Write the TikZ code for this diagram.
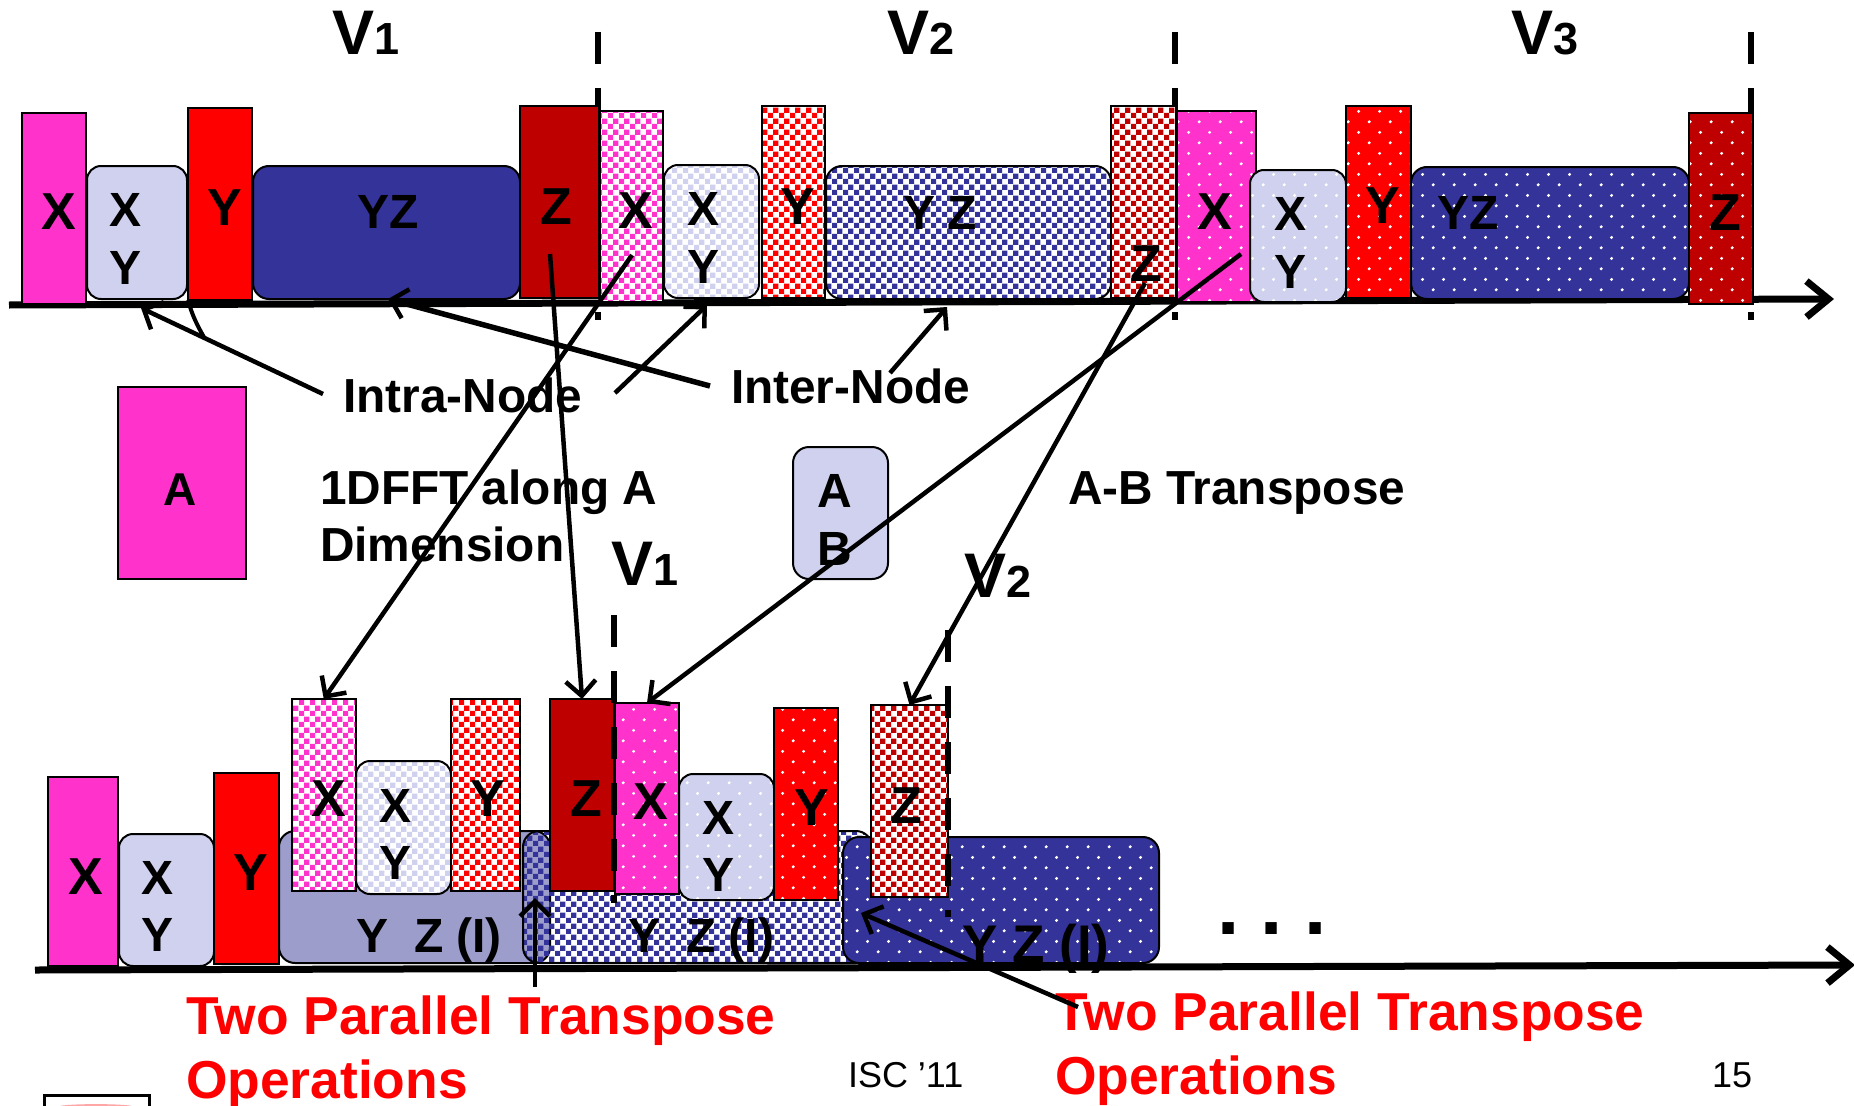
\documentclass[tikz,border=0pt]{standalone}
\usepackage{fontspec}
\setmainfont{Liberation Sans}
\usetikzlibrary{arrows.meta,patterns}
\definecolor{cpink}{HTML}{FF33CC}
\definecolor{clil}{HTML}{D0D1EE}
\definecolor{cred}{HTML}{FF0000}
\definecolor{cdred}{HTML}{BE0000}
\definecolor{cnavy}{HTML}{333399}
\definecolor{cplain}{HTML}{9C9DCB}
\pgfdeclarepatternformonly{mycheck}{\pgfqpoint{0pt}{0pt}}{\pgfqpoint{10.67pt}{10.67pt}}{\pgfqpoint{10.67pt}{10.67pt}}{%
  \pgfpathrectangle{\pgfqpoint{0pt}{0pt}}{\pgfqpoint{5.33pt}{5.33pt}}%
  \pgfpathrectangle{\pgfqpoint{5.33pt}{5.33pt}}{\pgfqpoint{5.33pt}{5.33pt}}%
  \pgfusepath{fill}}
\pgfdeclarepatternformonly{mydots}{\pgfqpoint{0pt}{0pt}}{\pgfqpoint{21.33pt}{21.33pt}}{\pgfqpoint{21.33pt}{21.33pt}}{%
  \pgfpathcircle{\pgfqpoint{5.33pt}{5.33pt}}{1.7pt}%
  \pgfpathcircle{\pgfqpoint{16pt}{16pt}}{1.7pt}%
  \pgfusepath{fill}}
\tikzset{
  bar/.style={draw=black,line width=2pt,inner sep=0pt,outer sep=0pt},
  pill/.style={bar,rounded corners=16pt},
  chk/.style={preaction={fill=white},pattern=mycheck,pattern color=#1},
  chkclear/.style={pattern=mycheck,pattern color=#1},
  dotfill/.style={preaction={fill=#1},pattern=mydots,pattern color=white},
  lab/.style={inner sep=0pt,outer sep=0pt,font=\bfseries\fontsize{52}{52}\selectfont},
  labs/.style={inner sep=0pt,outer sep=0pt,font=\bfseries\fontsize{48}{48}\selectfont},
  labb/.style={inner sep=0pt,outer sep=0pt,anchor=base,font=\bfseries\fontsize{48}{48}\selectfont},
  captxt/.style={inner sep=0pt,outer sep=0pt,anchor=base west,font=\bfseries\fontsize{47.8}{48}\selectfont},
  redtxt/.style={inner sep=0pt,outer sep=0pt,anchor=base west,text=cred,font=\bfseries\fontsize{53.4}{54}\selectfont},
  vlab/.style={inner sep=0pt,outer sep=0pt,anchor=base west,font=\bfseries\fontsize{63}{63}\selectfont},
  foot/.style={inner sep=0pt,outer sep=0pt,anchor=base west,font=\fontsize{36}{36}\selectfont},
  arr/.style={line width=4.5pt,-{Straight Barb[length=15pt,width=30pt,line width=4.5pt]}},
  plainline/.style={line width=4pt},
  axisline/.style={line width=7pt,-{Straight Barb[length=22pt,width=36pt,line width=7pt]}},
  divider/.style={line width=6.5pt,dash pattern=on 32pt off 24pt},
}
% box: style, name, x1, y1, x2, y2
\newcommand{\Bx}[6]{\node[#1,anchor=south west,minimum width={(#5-#3)*1pt},minimum height={(#6-#4)*1pt}] (#2) at (#3,#6) {};}
\newcommand{\Vv}[1]{V{\fontsize{45}{45}\selectfont #1}}
\begin{document}
\begin{tikzpicture}[x=1pt,y=-1pt]
\path[use as bounding box,clip] (0,0) rectangle (1854,1105);
\fill[white] (0,0) rectangle (1854,1105);
% top dividers
\coordinate (d1a) at (598,32); \coordinate (d1b) at (598,320);
\coordinate (d2a) at (1175,32); \coordinate (d2b) at (1175,320);
\coordinate (d3a) at (1751,32); \coordinate (d3b) at (1751,320);
\draw[divider] (d1a) -- (d1b);
\draw[divider] (d2a) -- (d2b);
\draw[divider] (d3a) -- (d3b);
% top axis
\coordinate (axA) at (9,305); \coordinate (axB) at (1834,299);
\draw[axisline] (axA) -- (axB);
% top row
\Bx{bar,fill=cpink}{a1}{22}{113}{86}{304}
\Bx{pill,rounded corners=14pt,fill=clil}{a2}{87}{166}{187}{299}
\Bx{bar,fill=cred}{a3}{188}{108}{252}{300}
\Bx{pill,fill=cnavy}{a4}{253}{166}{520}{299}
\Bx{bar,fill=cdred}{a5}{520}{106}{599}{298}
\Bx{bar,chk=cpink}{b1}{600}{111}{663}{302}
\Bx{pill,rounded corners=14pt,chk=clil}{b2}{664}{165}{759}{298}
\Bx{bar,chk=cred}{b3}{762}{106}{825}{298}
\Bx{pill,chk=cnavy}{b4}{826}{166}{1111}{299}
\Bx{bar,chk=cdred}{b5}{1111}{106}{1176}{298}
\Bx{bar,dotfill=cpink}{c1}{1177}{111}{1256}{302}
\Bx{pill,rounded corners=14pt,dotfill=clil}{c2}{1250}{170}{1346}{302}
\Bx{bar,dotfill=cred}{c3}{1346}{106}{1411}{298}
\Bx{pill,dotfill=cnavy}{c4}{1411}{167}{1689}{299}
\Bx{bar,dotfill=cdred}{c5}{1689}{113}{1753}{304}
% top labels
\node[lab] (ta1) at (59,212) {X};
\node[labs] (ta2x) at (126,210) {X};
\node[labs] (ta2y) at (126,268) {Y};
\node[lab] (ta3) at (225,208) {Y};
\node[labs] (ta4) at (388,212) {YZ};
\node[lab] (ta5) at (556,207) {Z};
\node[lab] (tb1) at (636,211) {X};
\node[labs] (tb2x) at (703,209) {X};
\node[labs] (tb2y) at (703,267) {Y};
\node[lab] (tb3) at (798,207) {Y};
\node[labs] (tb4y) at (919,213) {Y};
\node[labs] (tb4z) at (962,213) {Z};
\node[lab] (tb5) at (1146,264) {Z};
\node[lab] (tc1) at (1215,212) {X};
\node[labs] (tc2x) at (1290,214) {X};
\node[labs] (tc2y) at (1290,272) {Y};
\node[lab] (tc3) at (1383,206) {Y};
\node[labs] (tc4) at (1468,213) {YZ};
\node[lab] (tc5) at (1725,213) {Z};
% V labels
\node[vlab] (v1) at (332,55) {\Vv{1}};
\node[vlab] (v2) at (887,55) {\Vv{2}};
\node[vlab] (v3) at (1511,55) {\Vv{3}};
\node[vlab] (v1l) at (611,585) {\Vv{1}};
\node[vlab] (v2l) at (964,597) {\Vv{2}};
% middle
\node[captxt] (intra) at (343,412) {Intra-Node};
\node[captxt] (inter) at (731,403) {Inter-Node};
\Bx{bar,fill=cpink}{legA}{118}{387}{246}{579}
\node[lab,font=\bfseries\fontsize{46}{46}\selectfont] (legAt) at (180,490) {A};
\node[captxt] (fft1) at (320,504) {1DFFT along A};
\node[captxt] (fft2) at (320,561) {Dimension};
\Bx{pill,fill=clil}{legB}{793}{447}{888}{579}
\node[labs] (legBa) at (835,491) {A};
\node[labs] (legBb) at (835,549) {B};
\node[captxt] (abt) at (1068,504) {A-B Transpose};
% bottom axis
\coordinate (bxA) at (35,970); \coordinate (bxB) at (1855,965);
\draw[axisline] (bxA) -- (bxB);
% bottom row
\Bx{bar,fill=cpink}{e1}{48}{777}{118}{966}
\Bx{pill,rounded corners=14pt,fill=clil}{e2}{119}{834}{214}{966}
\Bx{bar,fill=cred}{e3}{214}{773}{279}{964}
\Bx{pill,fill=cplain}{e4}{279}{831}{550}{963}
\Bx{pill,chkclear=cnavy}{f4}{523}{831}{872}{963}
\Bx{pill,dotfill=cnavy}{g4}{843}{837}{1159}{963}
\Bx{bar,chk=cpink}{f1}{291.5}{699}{356}{891}
\Bx{pill,rounded corners=14pt,chk=clil}{f2}{356}{761}{451}{894}
\Bx{bar,chk=cred}{f3}{451}{699}{520}{891}
\Bx{bar,fill=cdred}{f5}{550}{699}{614}{891}
\Bx{bar,dotfill=cpink}{g1}{615}{703}{679}{894}
\Bx{pill,rounded corners=14pt,dotfill=clil}{g2}{679}{774}{774}{900}
\Bx{bar,dotfill=cred}{g3}{774}{708}{838}{900}
\Bx{bar,chk=cdred}{g5}{871}{705}{948}{897}
% bottom dividers
\coordinate (d4a) at (614,615); \coordinate (d4b) at (614,903);
\coordinate (d5a) at (948,630); \coordinate (d5b) at (948,917);
\draw[divider] (d4a) -- (d4b);
\draw[divider] (d5a) -- (d5b);
% bottom labels
\node[lab] (le1) at (86,877) {X};
\node[labs] (le2x) at (158,878) {X};
\node[labs] (le2y) at (158,935) {Y};
\node[lab] (le3) at (251,873) {Y};
\node[labb] (le4) at (429,952) {Y\kern.54em Z\kern.27em(I)};
\node[lab] (lf1) at (329,799) {X};
\node[labs] (lf2x) at (395.5,806) {X};
\node[labs] (lf2y) at (395.5,863) {Y};
\node[lab] (lf3) at (488,799) {Y};
\node[lab] (lf5) at (586,799) {Z};
\node[labb] (lf4) at (701.5,952) {Y\kern.54em Z\kern.27em(I)};
\node[lab] (lg1) at (651,802) {X};
\node[labs] (lg2x) at (718,818) {X};
\node[labs] (lg2y) at (718,875) {Y};
\node[lab] (lg3) at (812,808) {Y};
\node[lab] (lg5) at (906,806) {Z};
\node[labb,font=\bfseries\fontsize{53}{53}\selectfont] (lg4) at (1036,962) {Y Z (I)};
% ellipsis
\node[inner sep=0pt,anchor=base,font=\bfseries\fontsize{80}{80}\selectfont] (dots) at (1272,934) {.\kern21pt.\kern21pt.};
% red captions
\node[redtxt] (rc1) at (186,1034) {Two Parallel Transpose};
\node[redtxt] (rc2) at (186,1098) {Operations};
\node[redtxt] (rc3) at (1055,1030) {Two Parallel Transpose};
\node[redtxt] (rc4) at (1055,1094) {Operations};
% footer
\node[foot] (isc) at (848,1087) {ISC '11};
\node[foot] (pg) at (1712,1087) {15};
% logo fragment
\node[draw=black,line width=2.5pt,fill=white,inner sep=0pt,anchor=north west,minimum width=105pt,minimum height=30pt] (logo) at (43,1094) {};
\fill[red!35] (60,1106) .. controls (70,1103.5) and (122,1103.5) .. (132,1106) -- cycle;
% connectors
\coordinate (t1) at (323,394); \coordinate (h1) at (141,308);
\draw[arr] (t1) -- (h1);
\coordinate (t2) at (205,339);
\draw[plainline] (t2) .. controls (197,325) and (192,315) .. (a3.south west);
\coordinate (t3) at (615,393); \coordinate (h3) at (707,305);
\draw[arr] (t3) -- (h3);
\coordinate (t4) at (710,386); \coordinate (h4) at (388,299);
\draw[arr,line width=5.5pt] (t4) -- (h4);
\coordinate (t5) at (890,373); \coordinate (h5) at (947,307);
\draw[arr] (t5) -- (h5);
\coordinate (t6) at (632,255);
\draw[arr] (t6) -- (f1.north);
\coordinate (t7) at (550,254);
\draw[arr] (t7) -- (f5.north);
\coordinate (t8) at (1241,254);
\draw[arr] (t8) -- (g1.north);
\coordinate (t9) at (1145,283);
\draw[arr] (t9) -- (g5.north);
\coordinate (t10) at (535,987); \coordinate (h10) at (535,898);
\draw[arr] (t10) -- (h10);
\coordinate (t11) at (1078,1007); \coordinate (h11) at (861,913);
\draw[arr] (t11) -- (h11);
\end{tikzpicture}
\end{document}
